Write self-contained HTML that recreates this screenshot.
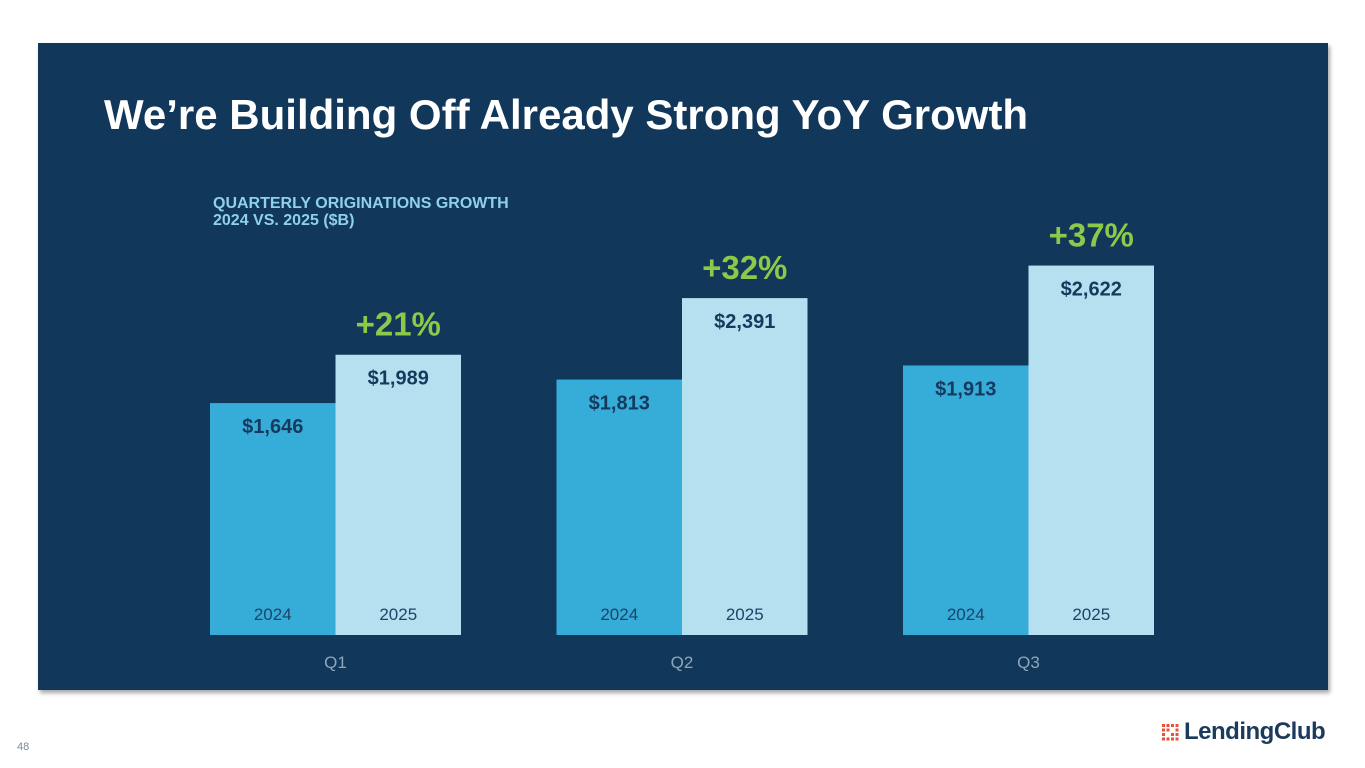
<!DOCTYPE html>
<html><head><meta charset="utf-8"><style>
body{margin:0;width:1365px;height:768px;background:#fff;position:relative;overflow:hidden;font-family:"Liberation Sans",Arial,sans-serif}
#panel{position:absolute;left:38px;top:43px;width:1290px;height:647px;background:#11375a;box-shadow:2px 3px 4px rgba(0,0,0,0.35)}
#title{position:absolute;left:104px;top:91px;color:#fff;font-weight:bold;font-size:42px;margin:0;white-space:nowrap}
#sub{position:absolute;left:213px;top:195px;color:#8fd0ea;font-weight:bold;font-size:16px;line-height:17px}
#pg{position:absolute;left:17px;top:741px;font-size:11px;color:#7a8a9a}
#logo{position:absolute;left:1162px;top:718px;display:flex;align-items:center}
</style></head><body>
<div id="panel"></div>
<h1 id="title">We’re Building Off Already Strong YoY Growth</h1>
<div id="sub">QUARTERLY ORIGINATIONS GROWTH<br>2024 VS. 2025 ($B)</div>
<svg id="chart" width="1365" height="768" style="position:absolute;left:0;top:0"></svg>
<div id="pg">48</div>
<div id="logo">
<svg width="17" height="17">
<g fill="#e8513a">
<rect x="0" y="0" width="3" height="3"/><rect x="4.5" y="0" width="3" height="3"/><rect x="9" y="0" width="3" height="3"/><rect x="13.5" y="0" width="3" height="3"/>
<rect x="0" y="4.5" width="3" height="3"/><rect x="4.5" y="4.5" width="3" height="3"/><rect x="13.5" y="4.5" width="3" height="3"/>
<rect x="0" y="9" width="3" height="3"/><rect x="9" y="9" width="3" height="3"/><rect x="13.5" y="9" width="3" height="3"/>
<rect x="0" y="13.5" width="3" height="3"/><rect x="4.5" y="13.5" width="3" height="3"/><rect x="9" y="13.5" width="3" height="3"/><rect x="13.5" y="13.5" width="3" height="3"/>
</g></svg>
<span style="margin-left:5px;font-weight:bold;font-size:24px;color:#1b3a5c;letter-spacing:-0.5px">LendingClub</span>
</div>
<script>
const quarters=["Q1","Q2","Q3"];
const values2024=[1646,1813,1913];
const values2025=[1989,2391,2622];
const growthLabels=["+21%","+32%","+37%"];
const yearLabels=["2024","2025"];
const svg=document.getElementById('chart');
const NS='http://www.w3.org/2000/svg';
const baseY=635, scale=0.1409, groupStart=210, groupStep=346.5, barW=125.5;
function y(v){return baseY-v*scale;}
function x(i,s){return groupStart+i*groupStep+s*barW;}
function txt(xp,yp,s,size,fill,weight,name){
 const t=document.createElementNS(NS,'text');
 t.setAttribute('x',xp);t.setAttribute('y',yp);t.setAttribute('text-anchor','middle');
 t.setAttribute('font-size',size);t.setAttribute('fill',fill);t.setAttribute('font-weight',weight);
 t.setAttribute('font-family','Liberation Sans, Arial, sans-serif');
 t.textContent=s;
 
 
 svg.appendChild(t);return t;}
quarters.forEach((q,i)=>{
 [values2024[i],values2025[i]].forEach((v,s)=>{
  const r=document.createElementNS(NS,'rect');
  r.setAttribute('x',x(i,s));r.setAttribute('y',y(v));r.setAttribute('width',barW);r.setAttribute('height',baseY-y(v));
  r.setAttribute('fill',s?'#b5e0ef':'#36acd8');
  
  
  svg.appendChild(r);
  const cx=x(i,s)+barW/2;
  txt(cx,y(v)+30,'$'+v.toLocaleString('en-US'),20,'#163a5e','bold','value-label');
  txt(cx,620,yearLabels[s],17,'#1d4468','normal','year-label');
 });
 txt(x(i,1)+barW/2,y(values2025[i])-19,growthLabels[i],33,'#8bc94a','bold','growth-label');
 txt(x(i,1),668,q,17,'#8fa6bd','normal','quarter-label');
});
</script>
</body></html>
